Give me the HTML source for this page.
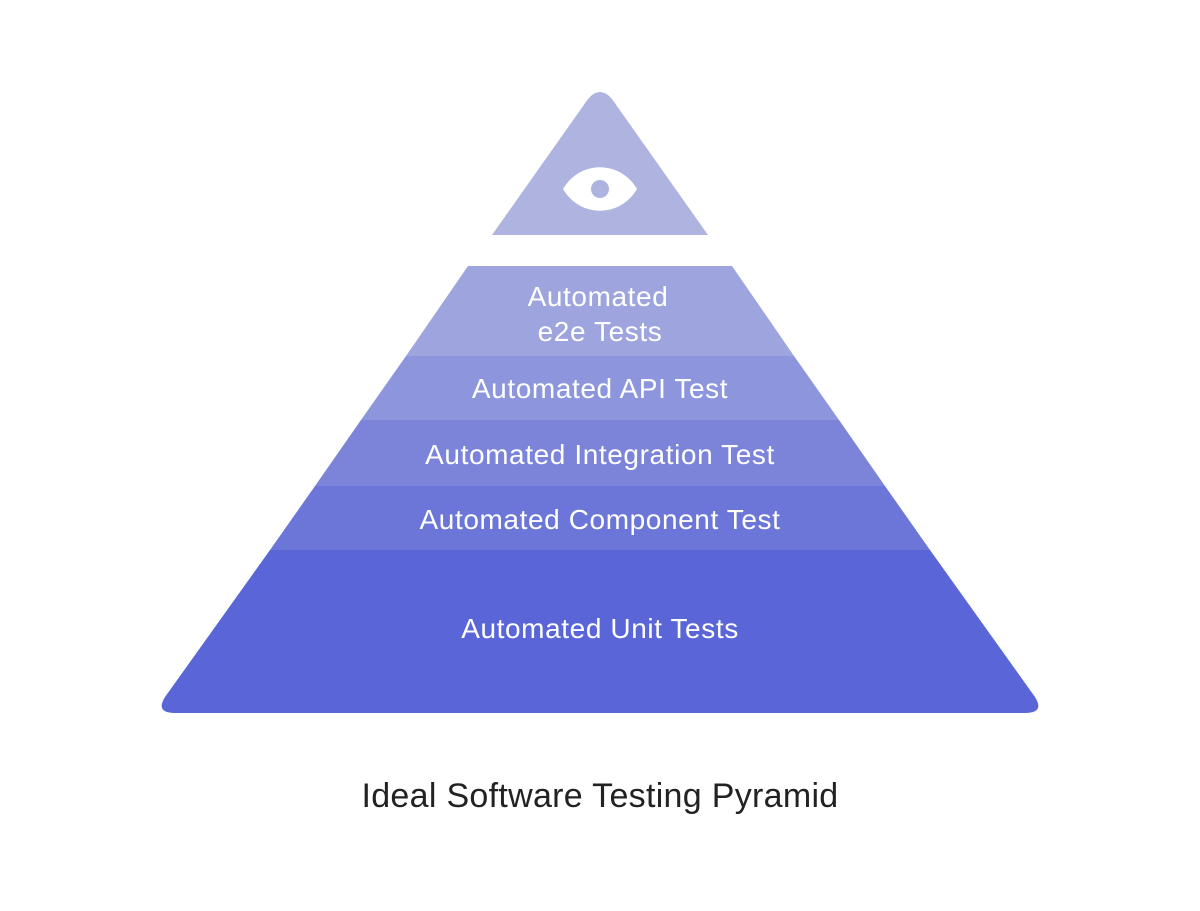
<!DOCTYPE html>
<html><head><meta charset="utf-8"><style>
html,body{margin:0;padding:0;background:#fff;}
body{width:1200px;height:906px;overflow:hidden;}
</style></head><body>
<svg width="1200" height="906" viewBox="0 0 1200 906" xmlns="http://www.w3.org/2000/svg">
<path d="M492,235 L588,99 Q600,85 612,99 L708,235 Z" fill="#aeb3df"/>
<path d="M563,189 C580,160 620,160 637,189 C620,218 580,218 563,189 Z" fill="#fff"/>
<circle cx="600" cy="189" r="9" fill="#aeb3df"/>
<path d="M468,266 L732,266 L794,356 L406,356 Z" fill="#9ea4dd"/>
<path d="M406,356 L794,356 L839,420 L361,420 Z" fill="#8d95dc"/>
<path d="M361,420 L839,420 L885,486 L315,486 Z" fill="#7c84da"/>
<path d="M315,486 L885,486 L930,550 L270,550 Z" fill="#6b76d8"/>
<path d="M270,550 L930,550 L1035,697 Q1045,713 1025,713 L175,713 Q155,713 165,697 Z" fill="#5a66d8"/>
<g font-family="Liberation Sans, sans-serif" font-size="28" fill="#fff" text-anchor="middle" letter-spacing="0.6">
<text x="598" y="306">Automated</text>
<text x="600" y="341">e2e Tests</text>
<text x="600" y="398">Automated API Test</text>
<text x="600" y="464">Automated Integration Test</text>
<text x="600" y="529">Automated Component Test</text>
<text x="600" y="638">Automated Unit Tests</text>
</g>
<text x="600" y="807" font-family="Liberation Sans, sans-serif" font-size="34" fill="#222" text-anchor="middle" letter-spacing="0.3">Ideal Software Testing Pyramid</text>
</svg>
</body></html>
